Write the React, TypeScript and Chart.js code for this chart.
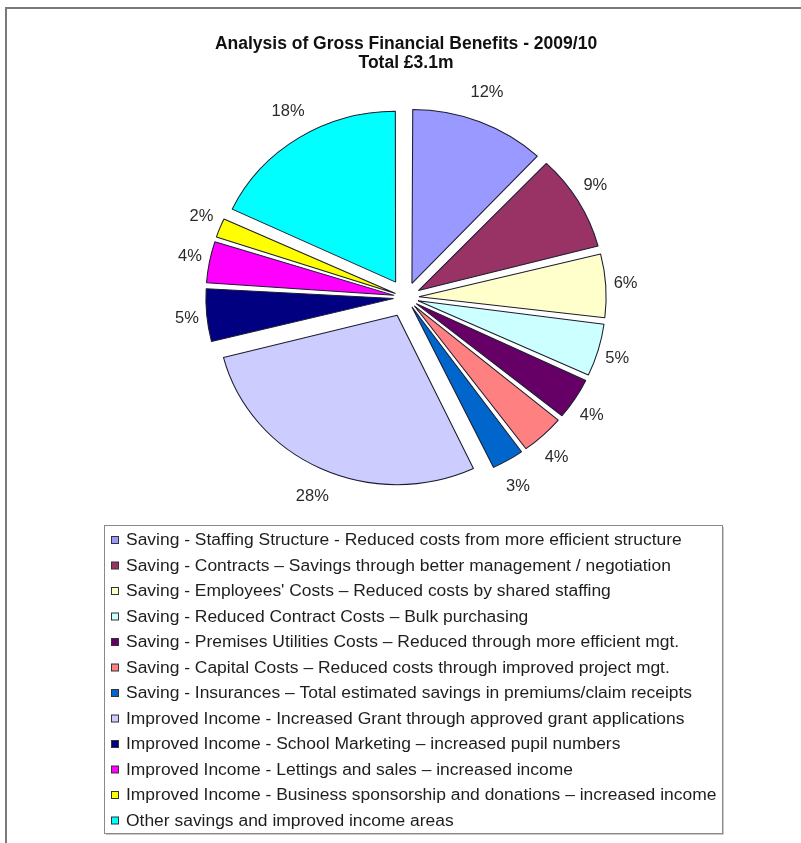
import React, { useEffect, useRef } from "react";
import { Chart, registerables } from "chart.js";

Chart.register(...registerables);

const categories: string[] = [
  "Saving - Staffing Structure - Reduced costs from more efficient structure",
  "Saving - Contracts \u2013 Savings through better management / negotiation",
  "Saving - Employees' Costs \u2013 Reduced costs by shared staffing",
  "Saving - Reduced Contract Costs \u2013 Bulk purchasing",
  "Saving - Premises Utilities Costs \u2013 Reduced through more efficient mgt.",
  "Saving - Capital Costs \u2013 Reduced costs through improved project mgt.",
  "Saving - Insurances \u2013 Total estimated savings in premiums/claim receipts",
  "Improved Income - Increased Grant through approved grant applications",
  "Improved Income - School Marketing \u2013 increased pupil numbers",
  "Improved Income - Lettings and sales \u2013 increased income",
  "Improved Income - Business sponsorship and donations \u2013 increased income",
  "Other savings and improved income areas",
];

const percentages: number[] = [12, 9, 6, 5, 4, 4, 3, 28, 5, 4, 2, 18];

const sliceColors: string[] = [
  "#9999FF",
  "#993366",
  "#FFFFCC",
  "#CCFFFF",
  "#660066",
  "#FF8080",
  "#0066CC",
  "#CCCCFF",
  "#000080",
  "#FF00FF",
  "#FFFF00",
  "#00FFFF",
];

const titleLines: string[] = [
  "Analysis of Gross Financial Benefits - 2009/10",
  "Total \u00A33.1m",
];

const FONT = "'Liberation Sans', Arial, sans-serif";
const EXPLODE = 20; // desired pixel displacement of each slice
const RADIUS = 169;
const SX = 1.059; // horizontal stretch of the pie as in the reference
const LABEL_DIST = 220;

const framePlugin = {
  id: "frame",
  beforeDraw(chart: any) {
    const ctx = chart.ctx;
    ctx.save();
    ctx.fillStyle = "#ffffff";
    ctx.fillRect(0, 0, chart.width, chart.height);
    ctx.strokeStyle = "#7a7a7a";
    ctx.lineWidth = 2;
    ctx.strokeRect(6, 8, chart.width + 20, chart.height + 20);
    ctx.restore();
  },
};

const stretchPlugin = {
  id: "stretch",
  beforeDatasetsDraw(chart: any) {
    const arc = chart.getDatasetMeta(0).data[0];
    const ctx = chart.ctx;
    ctx.save();
    if (arc) {
      ctx.translate(arc.x, arc.y);
      ctx.scale(SX, 1);
      ctx.translate(-arc.x, -arc.y);
    }
  },
  afterDatasetsDraw(chart: any) {
    const ctx = chart.ctx;
    ctx.restore();
    const meta = chart.getDatasetMeta(0);
    const ds = chart.data.datasets[0];
    ctx.save();
    ctx.font = `16.5px ${FONT}`;
    ctx.fillStyle = "#2a2a2a";
    ctx.textAlign = "center";
    ctx.textBaseline = "middle";
    meta.data.forEach((arc: any, i: number) => {
      const p = arc.getProps(["x", "y", "startAngle", "endAngle"], true);
      const mid = (p.startAngle + p.endAngle) / 2;
      const txt = ds.data[i] + "%";
      ctx.fillText(txt, p.x + Math.cos(mid) * LABEL_DIST, p.y + Math.sin(mid) * LABEL_DIST);
    });
    ctx.restore();
  },
};

const legendBoxPlugin = {
  id: "legendBox",
  afterDraw(chart: any) {
    const ctx = chart.ctx;
    const labels: string[] = chart.data.labels;
    const colors: string[] = chart.data.datasets[0].backgroundColor;
    const bx = 104, by = 525, bw = 618, bh = 308;
    ctx.save();
    ctx.strokeStyle = "#c8c8c8";
    ctx.lineWidth = 1;
    ctx.beginPath();
    ctx.moveTo(bx + 2, by + bh + 1.5);
    ctx.lineTo(bx + bw + 1.5, by + bh + 1.5);
    ctx.lineTo(bx + bw + 1.5, by + 2);
    ctx.stroke();
    ctx.strokeStyle = "#8a8a8a";
    ctx.lineWidth = 1;
    ctx.strokeRect(bx + 0.5, by + 0.5, bw, bh);
    ctx.textAlign = "left";
    ctx.textBaseline = "middle";
    labels.forEach((lab, i) => {
      const cy = 540 + i * 25.5;
      ctx.fillStyle = colors[i];
      ctx.fillRect(111, cy - 3.5, 7, 7);
      ctx.strokeStyle = "#333";
      ctx.lineWidth = 1;
      ctx.strokeRect(111.5, cy - 3.5, 7, 7);
      ctx.fillStyle = "#1e1e1e";
      ctx.save();
      ctx.translate(126, cy + 1);
      ctx.scale(1.09, 1);
      ctx.font = `16px ${FONT}`;
      ctx.fillText(lab, 0, 0);
      ctx.restore();
    });
    ctx.restore();
  },
};

export default function App() {
  const canvasRef = useRef<HTMLCanvasElement | null>(null);

  useEffect(() => {
    if (!canvasRef.current) return;
    const total = percentages.reduce((a, b) => a + b, 0);
    const chart = new Chart(canvasRef.current, {
      type: "pie",
      data: {
        labels: categories,
        datasets: [
          {
            data: percentages,
            backgroundColor: sliceColors,
            borderColor: "#1c1c30",
            borderWidth: 1,
            // Chart.js moves an arc by offset/4 * (1 + fix); invert to get EXPLODE px
            offset: (c: any) => {
              const v = percentages[c.dataIndex] || 0;
              const circ = (v / total) * Math.PI * 2;
              const fix = 1 - Math.sin(Math.min(Math.PI, circ));
              return (EXPLODE * 4) / (1 + fix);
            },
            radius: RADIUS,
            clip: false,
          } as any,
        ],
      },
      options: {
        responsive: false,
        animation: false,
        devicePixelRatio: 1,
        layout: { padding: { left: 22, right: 11, top: 0, bottom: 328 } },
        plugins: {
          legend: { display: false },
          tooltip: { enabled: false },
          title: {
            display: true,
            text: titleLines,
            color: "#111",
            font: { family: FONT, size: 17.5, weight: "bold", lineHeight: "19px" } as any,
            padding: { top: 35, bottom: 7 },
          },
        },
      },
      plugins: [framePlugin, stretchPlugin, legendBoxPlugin],
    });
    return () => chart.destroy();
  }, []);

  return (
    <div style={{ position: "absolute", left: 0, top: 0, width: 801, height: 843, background: "#fff" }}>
      <canvas ref={canvasRef} width={801} height={843} style={{ display: "block" }} />
    </div>
  );
}
